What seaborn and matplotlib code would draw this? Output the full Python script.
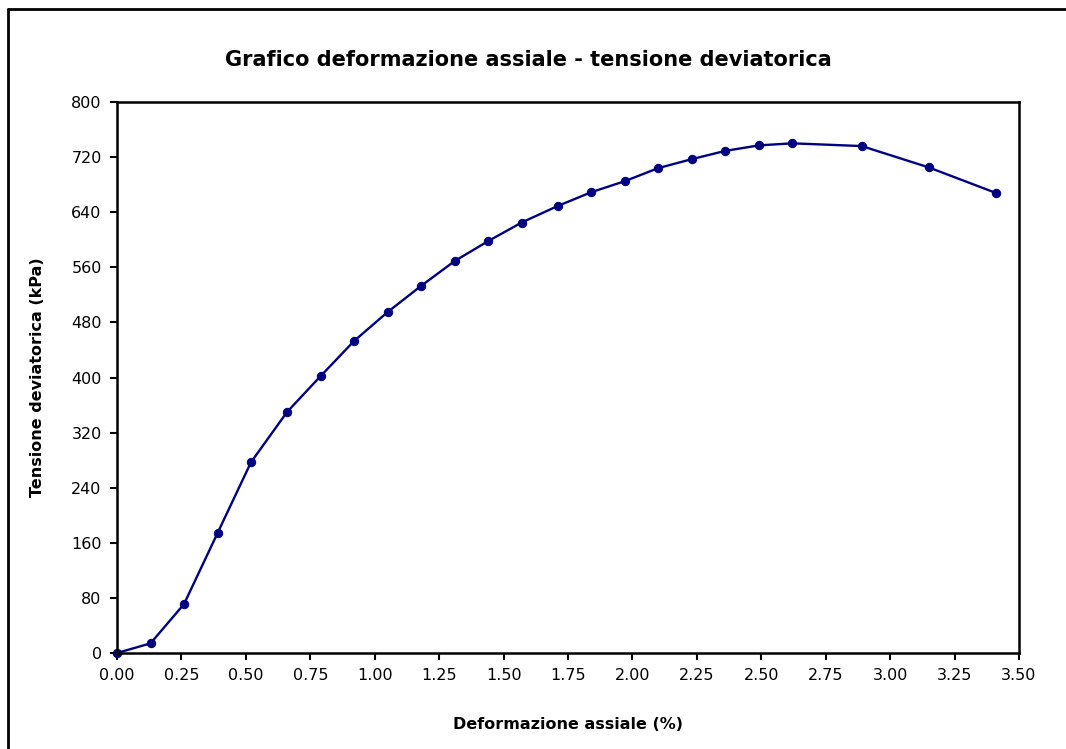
import matplotlib
matplotlib.use("Agg")
import matplotlib.pyplot as plt
import seaborn as sns
import pandas as pd
from matplotlib.lines import Line2D

deformazione = [0.00, 0.13, 0.26, 0.39, 0.52, 0.66, 0.79, 0.92, 1.05, 1.18, 1.31, 1.44,
                1.57, 1.71, 1.84, 1.97, 2.10, 2.23, 2.36, 2.49, 2.62, 2.89, 3.15, 3.41]
tensione = [0, 14, 71, 174, 277, 350, 402, 453, 495, 533, 569, 598,
            625, 649, 669, 685, 704, 717, 729, 737, 740, 736, 705, 668]
x_ticks = [0.0, 0.25, 0.5, 0.75, 1.0, 1.25, 1.5, 1.75, 2.0, 2.25, 2.5, 2.75, 3.0, 3.25, 3.5]
y_ticks = [0, 80, 160, 240, 320, 400, 480, 560, 640, 720, 800]

sns.set_theme(style="white")
plt.rcParams['font.family'] = ['DejaVu Sans']
plt.rcParams['text.color'] = 'black'
plt.rcParams['axes.labelcolor'] = 'black'

df = pd.DataFrame({"x": deformazione, "y": tensione})

fig = plt.figure(figsize=(10.66, 7.49), dpi=100)
ax = fig.add_axes([117/1066, 1 - 653/749, (1019-117)/1066, (653-102)/749])

sns.lineplot(data=df, x="x", y="y", ax=ax, sort=False, color="#000080",
             linewidth=1.7, marker="o", markersize=6, markeredgecolor="#000080",
             markerfacecolor="#000080", clip_on=False)

ax.set_xlim(0, 3.5)
ax.set_ylim(0, 800)
ax.set_xticks(x_ticks)
ax.set_xticklabels([f"{v:.2f}" for v in x_ticks], fontsize=11.5)
ax.set_yticks(y_ticks)
ax.set_yticklabels([str(v) for v in y_ticks], fontsize=11.5)
ax.tick_params(axis="both", direction="out", length=5, width=1.5, color="black",
               bottom=True, left=True, pad=6, labelcolor="black")
for s in ax.spines.values():
    s.set_linewidth(1.8)
    s.set_color("black")

ax.set_xlabel("Deformazione assiale (%)", fontsize=11.5, fontweight="bold",
              labelpad=24, color="black")
ax.set_ylabel("Tensione deviatorica (kPa)", fontsize=11.5, fontweight="bold",
              labelpad=19, color="black")
fig.text(528/1066, 1 - 60/749, "Grafico deformazione assiale - tensione deviatorica",
         ha="center", va="center", fontsize=15, fontweight="bold", color="black")

# outer chart border (top and left visible)
fig.add_artist(Line2D([8/1066, 1.0], [1 - 9/749, 1 - 9/749], transform=fig.transFigure,
                      color="black", linewidth=2))
fig.add_artist(Line2D([8/1066, 8/1066], [0.0, 1 - 9/749], transform=fig.transFigure,
                      color="black", linewidth=2))

fig.savefig("out.png", dpi=100)
